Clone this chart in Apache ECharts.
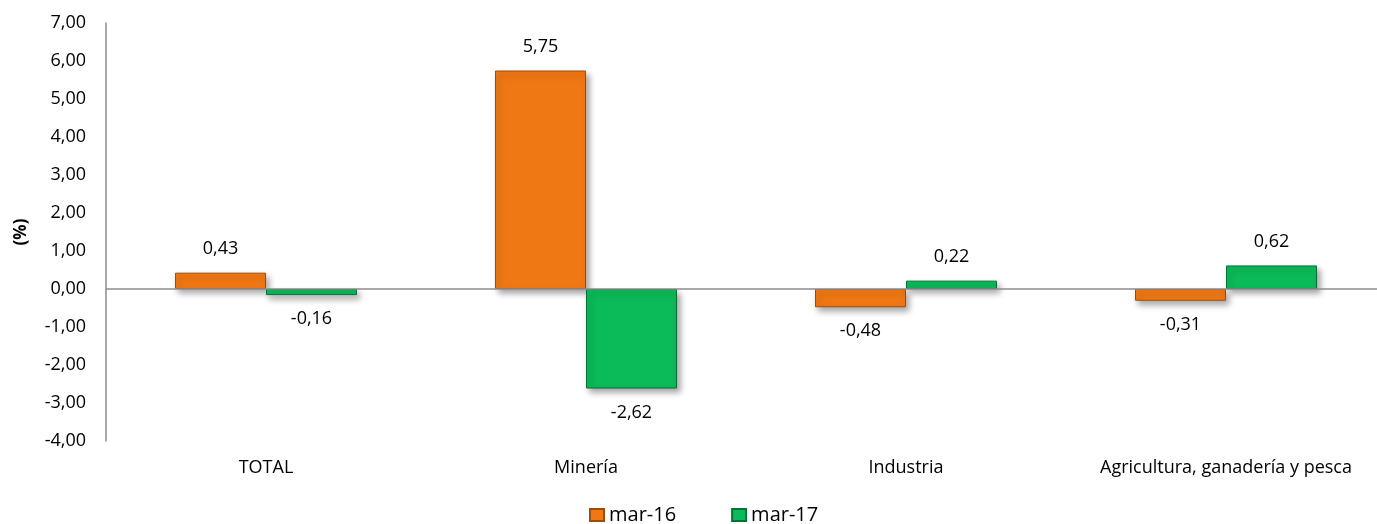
<!DOCTYPE html>
<html>
<head>
<meta charset="utf-8">
<script src="https://cdn.jsdelivr.net/npm/echarts@6/dist/echarts.min.js"></script>
<style>
  html, body { margin: 0; padding: 0; background: #fff; }
  #chart { width: 1377px; height: 524px; }
</style>
</head>
<body>
<div id="chart"></div>
<script>
var categories = ['TOTAL', 'Minería', 'Industria', 'Agricultura, ganadería y pesca'];
var seriesNames = ['mar-16', 'mar-17'];
var mar16 = [0.43, 5.75, -0.48, -0.31];
var mar17 = [-0.16, -2.62, 0.22, 0.62];
var colors = ['#F07814', '#0BBA58'];
var borders = ['#9C4D0C', '#05703A'];

function fmt(v) {
    return v.toFixed(2).replace('.', ',');
}

function buildData(values) {
    return values.map(function (v) {
        return {
            value: v,
            label: { position: v < 0 ? 'bottom' : 'top' }
        };
    });
}

function buildSeries(name, values, i) {
    return {
        name: name,
        type: 'bar',
        barWidth: 91,
        barGap: '0%',
        data: buildData(values),
        itemStyle: {
            color: colors[i],
            borderColor: borders[i],
            borderWidth: 1,
            shadowBlur: 6,
            shadowOffsetX: 3,
            shadowOffsetY: 4,
            shadowColor: 'rgba(0,0,0,0.35)'
        },
        label: {
            show: true,
            distance: 15,
            color: '#000',
            fontSize: 18,
            fontFamily: 'Open Sans',
            formatter: function (p) { return fmt(p.value); }
        }
    };
}

var series = [buildSeries(seriesNames[0], mar16, 0), buildSeries(seriesNames[1], mar17, 1)];
// linea del cero
series[0].markLine = {
    silent: true,
    symbol: 'none',
    label: { show: false },
    lineStyle: { color: '#8c8c8c', type: 'solid', width: 1.5 },
    data: [{ yAxis: 0 }]
};

var chart = echarts.init(document.getElementById('chart'));
chart.setOption({
    backgroundColor: '#fff',
    animation: false,
    grid: { left: 106, width: 1280, top: 23, height: 418, outerBoundsMode: 'none' },
    legend: {
        top: 500,
        left: 584,
        itemWidth: 14,
        itemHeight: 12,
        itemGap: 55,
        icon: 'rect',
        textStyle: { fontSize: 20, color: '#000', fontFamily: 'Open Sans' },
        data: seriesNames
    },
    xAxis: {
        type: 'category',
        data: categories,
        axisLine: { show: false, onZero: false },
        axisTick: { show: false },
        axisLabel: { interval: 0, color: '#000', fontSize: 18, fontFamily: 'Open Sans', margin: 18, hideOverlap: false }
    },
    yAxis: {
        type: 'value',
        min: -4,
        max: 7,
        interval: 1,
        name: '(%)',
        nameLocation: 'middle',
        nameGap: 76,
        nameTextStyle: { fontSize: 17, fontWeight: 'bold', color: '#000', fontFamily: 'Open Sans' },
        axisLine: { show: true, lineStyle: { color: '#8c8c8c', width: 1.5 } },
        axisTick: { show: false },
        splitLine: { show: false },
        axisLabel: {
            color: '#000',
            fontSize: 18,
            fontFamily: 'Open Sans',
            margin: 20,
            formatter: fmt
        }
    },
    series: series
});
</script>
</body>
</html>
